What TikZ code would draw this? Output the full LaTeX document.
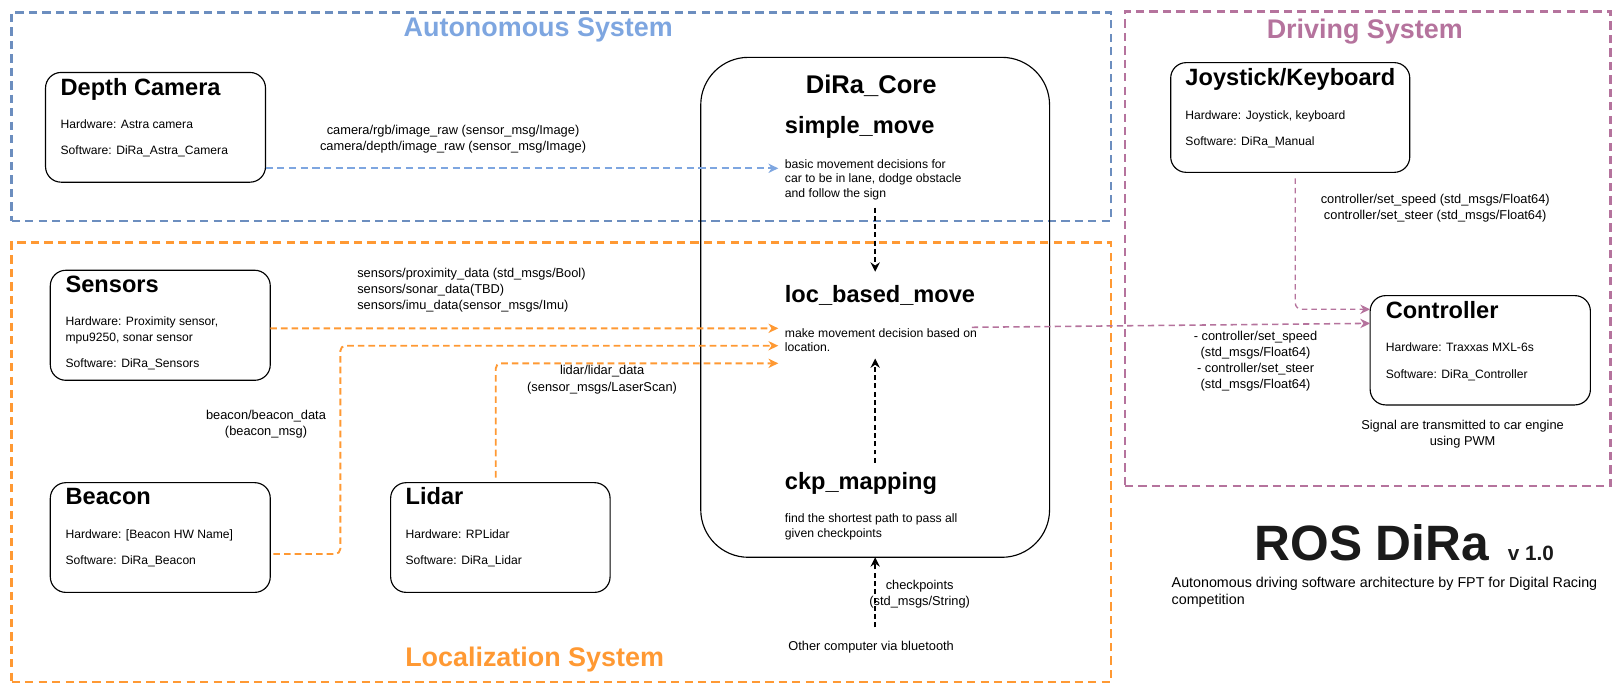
\documentclass[tikz,border=0pt]{standalone}
\usepackage{fontspec}
\setmainfont{Liberation Sans}
\usetikzlibrary{arrows.meta,positioning}
\definecolor{autoblue}{HTML}{6C8EBF}
\definecolor{autotext}{HTML}{7EA6E0}
\definecolor{locorange}{HTML}{FF9933}
\definecolor{drivepurple}{HTML}{B5739D}
\definecolor{titlegray}{HTML}{1A1A1A}
\begin{document}
\begin{tikzpicture}[
    x=1pt, y=-1pt,
    every node/.style={inner sep=0pt, outer sep=0pt},
    system/.style={rectangle, draw, line width=2.5pt, dash pattern=on 8pt off 5pt, anchor=north west},
    systitle/.style={anchor=base, font=\fontsize{26}{30}\selectfont\bfseries},
    comp/.style={rectangle, draw=black, line width=1.1pt, rounded corners=15pt, anchor=north west, minimum width=212.5pt, minimum height=106pt},
    core/.style={rectangle, draw=black, line width=1.1pt, rounded corners=46pt, anchor=north west, minimum width=337pt, minimum height=483pt},
    heading/.style={anchor=base west, font=\fontsize{22.8}{27}\selectfont\bfseries},
    info/.style={anchor=base west, font=\fontsize{11.7}{14}\selectfont},
    desc/.style={anchor=west, align=left, font=\fontsize{11.8}{14}\selectfont},
    topic/.style={align=center, font=\fontsize{12.4}{15.5}\selectfont},
    link/.style={line width=1.8pt, dash pattern=on 6.4pt off 3.9pt, -{Stealth[length=9.5pt, width=9pt, inset=3pt]}},
    flow/.style={line width=2pt, dash pattern=on 4.8pt off 3.2pt, -{Stealth[length=9pt, width=9pt, inset=3pt]}}
]
    \useasboundingbox (0,0) rectangle (1568,670.5);

    % System frames
    \node[system, draw=autoblue, minimum width=1062pt, minimum height=201.5pt] (autonomous) at (11.3,12) {};
    \node[system, draw=locorange, minimum width=1062pt, minimum height=424.6pt] (localization) at (11.3,234.4) {};
    \node[system, draw=drivepurple, minimum width=469.2pt, minimum height=458.2pt] (driving) at (1086.8,11.3) {};
    \node[systitle, text=autotext] (autonomous_title) at (520,34.8) {Autonomous System};
    \node[systitle, text=locorange] (localization_title) at (516.5,644) {Localization System};
    \node[systitle, text=drivepurple] (driving_title) at (1318.5,37) {Driving System};

    % Depth camera
    \node[comp] (depthcam) at (44,70) {};
    \node[heading] (depthcam_name) at ([xshift=14.6pt, yshift=-21.8pt]depthcam.north west) {Depth Camera};
    \node[info] (depthcam_hw) at ([xshift=14.6pt, yshift=-54pt]depthcam.north west) {Hardware: Astra camera};
    \node[info] (depthcam_sw) at ([xshift=14.6pt, yshift=-79.7pt]depthcam.north west) {Software: DiRa\_Astra\_Camera};

    % Sensors
    \node[comp, minimum height=106.3pt] (sensors) at (48.6,261.1) {};
    \node[heading] (sensors_name) at ([xshift=14.8pt, yshift=-21.6pt]sensors.north west) {Sensors};
    \node[info] (sensors_hw) at ([xshift=14.8pt, yshift=-53.5pt]sensors.north west) {Hardware: Proximity sensor,};
    \node[info] (sensors_hw2) at ([xshift=14.8pt, yshift=-68.6pt]sensors.north west) {mpu9250, sonar sensor};
    \node[info] (sensors_sw) at ([xshift=14.8pt, yshift=-93.7pt]sensors.north west) {Software: DiRa\_Sensors};

    % Beacon
    \node[comp] (beacon) at (48.6,466.3) {};
    \node[heading] (beacon_name) at ([xshift=14.8pt, yshift=-21.5pt]beacon.north west) {Beacon};
    \node[info] (beacon_hw) at ([xshift=14.8pt, yshift=-53.7pt]beacon.north west) {Hardware: [Beacon HW Name]};
    \node[info] (beacon_sw) at ([xshift=14.8pt, yshift=-79.5pt]beacon.north west) {Software: DiRa\_Beacon};

    % Lidar
    \node[comp, minimum width=212pt] (lidar) at (377.4,466.3) {};
    \node[heading] (lidar_name) at ([xshift=14.5pt, yshift=-21.5pt]lidar.north west) {Lidar};
    \node[info] (lidar_hw) at ([xshift=14.5pt, yshift=-53.7pt]lidar.north west) {Hardware: RPLidar};
    \node[info] (lidar_sw) at ([xshift=14.5pt, yshift=-79.5pt]lidar.north west) {Software: DiRa\_Lidar};

    % DiRa core
    \node[core] (core) at (677,55.4) {};
    \node[anchor=base, font=\fontsize{24.7}{29}\selectfont\bfseries] (core_name) at ([xshift=-3.8pt, yshift=-34.8pt]core.north) {DiRa\_Core};
    \node[heading] (simple_move) at ([xshift=81.3pt, yshift=-73.4pt]core.north west) {simple\_move};
    \node[desc] (simple_desc) at ([xshift=81.3pt, yshift=-118.1pt]core.north west) {basic movement decisions for\\car to be in lane, dodge obstacle\\and follow the sign};
    \node[heading] (loc_move) at ([xshift=81.3pt, yshift=-236.6pt]core.north west) {loc\_based\_move};
    \node[desc] (loc_desc) at ([xshift=81.3pt, yshift=-273.1pt]core.north west) {make movement decision based on\\location.};
    \node[heading] (ckp_move) at ([xshift=81.3pt, yshift=-417.9pt]core.north west) {ckp\_mapping};
    \node[desc] (ckp_desc) at ([xshift=81.3pt, yshift=-453.8pt]core.north west) {find the shortest path to pass all\\given checkpoints};
    \node[topic] (other_pc) at (841.6,625.3) {Other computer via bluetooth};

    % Joystick / keyboard
    \node[comp, minimum width=231pt] (joystick) at (1131,60.5) {};
    \node[heading] (joystick_name) at ([xshift=14.3pt, yshift=-22.3pt]joystick.north west) {Joystick/Keyboard};
    \node[info] (joystick_hw) at ([xshift=14.3pt, yshift=-54.5pt]joystick.north west) {Hardware: Joystick, keyboard};
    \node[info] (joystick_sw) at ([xshift=14.3pt, yshift=-80.4pt]joystick.north west) {Software: DiRa\_Manual};

    % Controller
    \node[comp, minimum width=212.8pt, minimum height=105.6pt] (controller) at (1323.7,285.6) {};
    \node[heading] (controller_name) at ([xshift=15.1pt, yshift=-21.9pt]controller.north west) {Controller};
    \node[info] (controller_hw) at ([xshift=15.1pt, yshift=-54.2pt]controller.north west) {Hardware: Traxxas MXL-6s};
    \node[info] (controller_sw) at ([xshift=15.1pt, yshift=-80.4pt]controller.north west) {Software: DiRa\_Controller};
    \node[topic] (signal_note) at (1413,419) {Signal are transmitted to car engine\\using PWM};

    % Title block
    \node[anchor=base west, font=\fontsize{48}{56}\selectfont\bfseries, text=titlegray] (ros_title) at (1212,541.6) {ROS DiRa};
    \node[anchor=base west, font=\fontsize{20}{24}\selectfont\bfseries, text=titlegray] (ros_version) at ([xshift=18pt]ros_title.base east) {v 1.0};
    \node[anchor=west, align=left, font=\fontsize{13.8}{16.2}\selectfont] (ros_subtitle) at (1132,572) {Autonomous driving software architecture by FPT for Digital Racing\\competition};

    % Topic labels
    \node[topic] (cam_topic) at (437.7,134.5) {camera/rgb/image\_raw (sensor\_msg/Image)\\camera/depth/image\_raw (sensor\_msg/Image)};
    \node[topic, anchor=west, align=left] (sensors_topic) at (345.2,280) {sensors/proximity\_data (std\_msgs/Bool)\\sensors/sonar\_data(TBD)\\sensors/imu\_data(sensor\_msgs/Imu)};
    \node[topic] (beacon_topic) at (257,410.2) {beacon/beacon\_data\\(beacon\_msg)};
    \node[topic] (lidar_topic) at (581.7,366.8) {lidar/lidar\_data\\(sensor\_msgs/LaserScan)};
    \node[topic] (ckp_topic) at ([xshift=43pt, yshift=-35.5pt]core.south) {checkpoints\\(std\_msgs/String)};
    \node[topic] (joy_topic) at (1386.6,201) {controller/set\_speed (std\_msgs/Float64)\\controller/set\_steer (std\_msgs/Float64)};
    \node[topic] (ctrl_topic) at (1213,349) {- controller/set\_speed\\(std\_msgs/Float64)\\- controller/set\_steer\\(std\_msgs/Float64)};

    % Entry points
    \coordinate (simple_in) at (751.9,162.6);
    \coordinate (loc_in1) at (751.9,317.2);
    \coordinate (loc_in2) at (751.9,334);
    \coordinate (loc_in3) at (751.9,351);
    \coordinate (loc_out) at (939,316.2);

    % Connections
    \draw[link, autotext, line width=1.6pt, dash pattern=on 7pt off 4.3pt] ([yshift=-39.6pt]depthcam.east) -- (simple_in);
    \draw[link, locorange] ([yshift=-3pt]sensors.east) -- (loc_in1);
    \draw[link, locorange, rounded corners=5pt] ([xshift=3pt, yshift=-15.9pt]beacon.east) -- ++(64.7,0) |- (loc_in2);
    \draw[link, locorange, rounded corners=5pt] ([xshift=-4.5pt, yshift=4.9pt]lidar.north) |- (loc_in3);
    \draw[flow] ([yshift=-7.5pt]simple_desc.south -| core.north) -- ([yshift=13pt]loc_move.north -| core.north);
    \draw[flow] ([yshift=9.7pt]ckp_move.north -| core.north) -- ([yshift=-6.5pt]loc_desc.south -| core.north);
    \draw[flow] ([yshift=13.4pt]other_pc.north -| core.south) -- (core.south);
    \draw[link, drivepurple, line width=1.5pt, dash pattern=on 6pt off 4pt] (loc_out) -- ([yshift=26pt]controller.west);
    \draw[link, drivepurple, line width=1.3pt, dash pattern=on 5.3pt off 4pt, rounded corners=6pt] ([xshift=4.9pt, yshift=-5.8pt]joystick.south) |- ([yshift=39.6pt]controller.west);
\end{tikzpicture}
\end{document}
